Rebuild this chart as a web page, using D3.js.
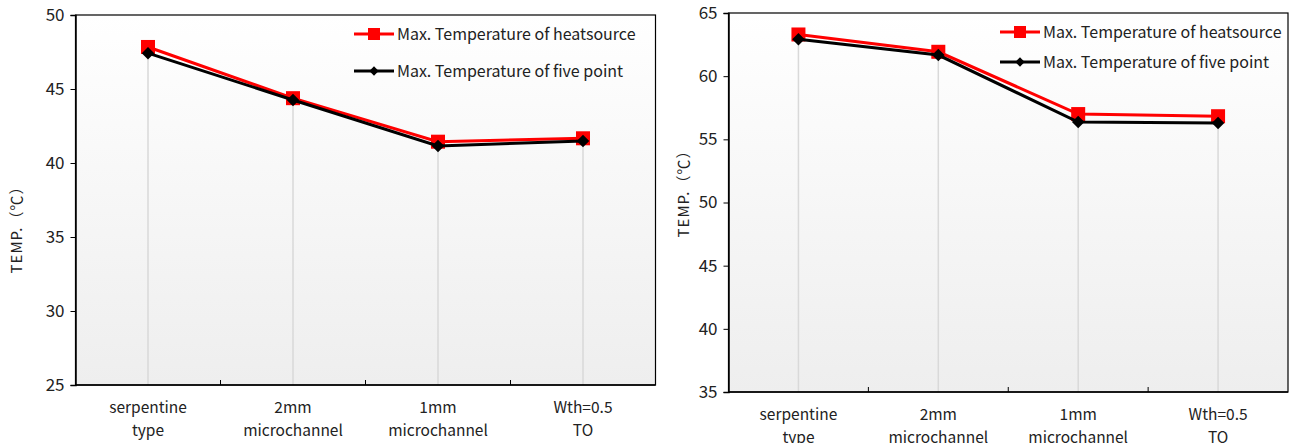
<!DOCTYPE html>
<html>
<head>
<meta charset="utf-8">
<script src="https://cdn.jsdelivr.net/npm/d3@7"></script>
<style>
  body { margin: 0; background: #fff; }
  text { font-family: "Noto Sans CJK SC", "Noto Sans", sans-serif; fill: #222; }
</style>
</head>
<body>
<svg id="chart" width="1293" height="443"></svg>
<script>
// categories shared by both panels
const categories = [["serpentine", "type"], ["2mm", "microchannel"], ["1mm", "microchannel"], ["Wth=0.5", "TO"]];
const seriesNames = ["Max. Temperature of heatsource", "Max. Temperature of five point"];

// left panel
const leftHeatsource = [47.84, 44.38, 41.44, 41.67];
const leftFivePoint = [47.42, 44.26, 41.15, 41.49];
const leftTicks = [25, 30, 35, 40, 45, 50];

// right panel
const rightHeatsource = [63.3, 61.93, 57.0, 56.83];
const rightFivePoint = [62.92, 61.67, 56.37, 56.29];
const rightTicks = [35, 40, 45, 50, 55, 60, 65];

const svg = d3.select("#chart");

const defs = svg.append("defs");
const grad = defs.append("linearGradient")
  .attr("id", "bg")
  .attr("x1", 0).attr("y1", 0).attr("x2", 0).attr("y2", 1);
grad.append("stop").attr("offset", "0%").attr("stop-color", "#ffffff");
grad.append("stop").attr("offset", "100%").attr("stop-color", "#eeeeee");

function drawPanel(opts) {
  const { left, right, top, bottom, ticks, heat, five, labelX, legendX, legendY, legendGap, labelY2 } = opts;
  const g = svg.append("g");

  const x = d3.scaleBand()
    .domain(categories.map((d, i) => i))
    .range([left, right]);

  const y = d3.scaleLinear()
    .domain([ticks[0], ticks[ticks.length - 1]])
    .range([bottom, top]);

  // plot background
  g.append("rect")
    .attr("x", left).attr("y", top)
    .attr("width", right - left).attr("height", bottom - top)
    .attr("fill", "url(#bg)");

  // drop lines
  g.append("g")
    .selectAll("line")
    .data(heat)
    .enter()
    .append("line")
      .attr("x1", (d, i) => x(i) + x.bandwidth() / 2)
      .attr("x2", (d, i) => x(i) + x.bandwidth() / 2)
      .attr("y1", d => y(d))
      .attr("y2", bottom)
      .style("stroke", "#d9d9d9")
      .style("stroke-width", 1.5);

  // frame
  g.append("rect")
    .attr("x", left).attr("y", top)
    .attr("width", right - left).attr("height", bottom - top)
    .attr("fill", "none")
    .attr("stroke", "#000")
    .attr("stroke-width", 1.2);

  // y axis
  const yAxis = d3.axisLeft(y)
    .tickValues(ticks)
    .tickSize(5)
    .tickPadding(6);
  const ya = g.append("g")
    .attr("transform", `translate(${left}, 0)`)
    .call(yAxis);
  ya.select(".domain").attr("stroke", "#000").attr("stroke-width", 1.5);
  ya.selectAll(".tick line").attr("stroke", "#000");
  ya.selectAll(".tick text")
    .style("font-size", "17px")
    .style("font-family", "'Noto Sans CJK SC', sans-serif")
    .attr("fill", "#222");

  // x axis: ticks between categories, pointing inward
  const boundaries = d3.range(1, categories.length).map(i => x(i));
  g.append("line")
    .attr("x1", left).attr("x2", right)
    .attr("y1", bottom).attr("y2", bottom)
    .attr("stroke", "#000").attr("stroke-width", 1.5);
  g.append("g")
    .selectAll("line")
    .data(boundaries)
    .enter()
    .append("line")
      .attr("x1", d => d).attr("x2", d => d)
      .attr("y1", bottom).attr("y2", bottom - 5)
      .attr("stroke", "#000");

  const xl = g.append("g")
    .selectAll("text")
    .data(categories)
    .enter()
    .append("text")
      .attr("text-anchor", "middle")
      .style("font-size", "15.5px")
      .attr("x", (d, i) => x(i) + x.bandwidth() / 2)
      .attr("y", bottom + 28);
  xl.append("tspan")
    .attr("x", (d, i) => x(i) + x.bandwidth() / 2)
    .text(d => d[0]);
  xl.append("tspan")
    .attr("x", (d, i) => x(i) + x.bandwidth() / 2)
    .attr("dy", 23)
    .text(d => d[1]);

  // y label
  g.append("text")
    .attr("transform", `translate(${labelX}, ${labelY2}) rotate(-90)`)
    .attr("text-anchor", "middle")
    .style("font-size", "15px")
    .style("letter-spacing", "1px")
    .text("TEMP.（℃）");

  // lines
  const line = d3.line()
    .x((d, i) => x(i) + x.bandwidth() / 2)
    .y(d => y(d));

  g.append("path")
    .datum(heat)
    .attr("d", line)
    .attr("fill", "none")
    .attr("stroke", "#ff0000")
    .attr("stroke-width", 3);

  g.append("g")
    .selectAll("rect")
    .data(heat)
    .enter()
    .append("rect")
      .attr("x", (d, i) => x(i) + x.bandwidth() / 2 - 7)
      .attr("y", d => y(d) - 7)
      .attr("width", 14).attr("height", 14)
      .attr("fill", "#ff0000");

  g.append("path")
    .datum(five)
    .attr("d", line)
    .attr("fill", "none")
    .attr("stroke", "#000")
    .attr("stroke-width", 3);

  const diamond = d3.symbol().type(d3.symbolDiamond2).size(100);
  g.append("g")
    .selectAll("path")
    .data(five)
    .enter()
    .append("path")
      .attr("d", diamond)
      .attr("transform", (d, i) => `translate(${x(i) + x.bandwidth() / 2}, ${y(d)})`)
      .attr("fill", "#000");

  // legend
  const lg = g.append("g").attr("transform", `translate(${legendX}, ${legendY})`);
  const items = [
    { name: seriesNames[0], color: "#ff0000", marker: "square" },
    { name: seriesNames[1], color: "#000", marker: "diamond" }
  ];
  items.forEach((it, i) => {
    const row = lg.append("g").attr("transform", `translate(0, ${i * legendGap})`);
    row.append("line")
      .attr("x1", 0).attr("x2", 40)
      .attr("stroke", it.color).attr("stroke-width", 3);
    if (it.marker === "square") {
      row.append("rect")
        .attr("x", 14).attr("y", -6)
        .attr("width", 12).attr("height", 12)
        .attr("fill", it.color);
    } else {
      row.append("path")
        .attr("d", d3.symbol().type(d3.symbolDiamond2).size(55))
        .attr("transform", "translate(20, 0)")
        .attr("fill", it.color);
    }
    row.append("text")
      .attr("x", 43).attr("y", 0)
      .attr("dy", "0.35em")
      .style("font-size", "16px")
      .text(it.name);
  });
}

drawPanel({
  left: 75.5, right: 655.5, top: 15, bottom: 385,
  ticks: leftTicks, heat: leftHeatsource, five: leftFivePoint,
  labelX: 22, labelY2: 226,
  legendX: 354, legendY: 34, legendGap: 37
});

drawPanel({
  left: 728.5, right: 1288, top: 13, bottom: 392,
  ticks: rightTicks, heat: rightHeatsource, five: rightFivePoint,
  labelX: 689, labelY2: 190,
  legendX: 1000, legendY: 32, legendGap: 30
});
</script>
</body>
</html>
